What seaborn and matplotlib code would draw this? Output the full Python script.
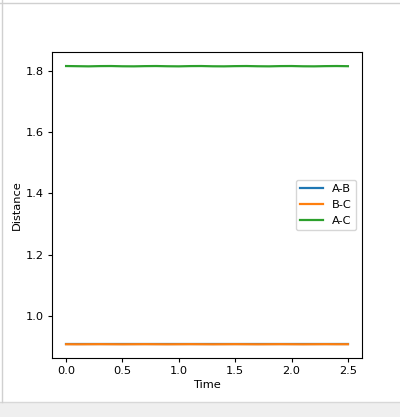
import matplotlib.pyplot as plt
import seaborn as sns
import pandas as pd
from matplotlib.patches import Rectangle
from matplotlib.lines import Line2D

# Time samples and distances
time = [0.0, 0.1, 0.2, 0.3, 0.4, 0.5, 0.6, 0.7, 0.8, 0.9, 1.0, 1.1, 1.2,
        1.3, 1.4, 1.5, 1.6, 1.7, 1.8, 1.9, 2.0, 2.1, 2.2, 2.3, 2.4, 2.5]
dist_ab = [0.908, 0.908, 0.908, 0.908, 0.908, 0.908, 0.908, 0.908, 0.908,
           0.908, 0.908, 0.908, 0.908, 0.908, 0.908, 0.908, 0.908, 0.908,
           0.908, 0.908, 0.908, 0.908, 0.908, 0.908, 0.908, 0.908]
dist_bc = [0.908, 0.9078, 0.908, 0.9082, 0.908, 0.9078, 0.908, 0.9082,
           0.908, 0.9078, 0.908, 0.9082, 0.908, 0.9078, 0.908, 0.9082,
           0.908, 0.9078, 0.908, 0.9082, 0.908, 0.9078, 0.908, 0.9082,
           0.908, 0.908]
dist_ac = [1.816, 1.8155, 1.815, 1.8158, 1.816, 1.8152, 1.815, 1.8157,
           1.816, 1.8153, 1.815, 1.8158, 1.816, 1.8152, 1.815, 1.8157,
           1.816, 1.8153, 1.815, 1.8158, 1.816, 1.8152, 1.815, 1.8157,
           1.816, 1.8155]
labels = ["A-B", "B-C", "A-C"]

df = pd.concat([
    pd.DataFrame({"Time": time, "Distance": d, "pair": lab})
    for d, lab in zip([dist_ab, dist_bc, dist_ac], labels)
])

# reference looks like a downscaled screenshot, so shrink text and ticks
plt.rcParams["font.size"] = 8.2
plt.rcParams["xtick.major.size"] = 2.8
plt.rcParams["ytick.major.size"] = 2.8
plt.rcParams["xtick.major.pad"] = 2.8
plt.rcParams["ytick.major.pad"] = 2.8
plt.rcParams["axes.labelpad"] = 3.0

fig = plt.figure(figsize=(4, 4.17), dpi=100)
ax = fig.add_axes([0.13, 0.141, 0.775, 0.734])
sns.lineplot(data=df, x="Time", y="Distance", hue="pair", hue_order=labels,
             palette=["#1f77b4", "#ff7f0e", "#2ca02c"], linewidth=1.6, ax=ax)
ax.set_xticks([0.0, 0.5, 1.0, 1.5, 2.0, 2.5])
ax.set_yticks([1.0, 1.2, 1.4, 1.6, 1.8])
ax.legend(loc="center right", title=None)

# screenshot window frame
fig.patches.append(Rectangle((0, 0), 1, 15 / 417, transform=fig.transFigure,
                             facecolor="#efefef", edgecolor="none"))
fig.lines.append(Line2D([0, 1], [15 / 417, 15 / 417], transform=fig.transFigure,
                        color="#d8d8d8", lw=1))
fig.lines.append(Line2D([0.006, 0.006], [15 / 417, 1], transform=fig.transFigure,
                        color="#d0d0d0", lw=1))
fig.lines.append(Line2D([0, 1], [0.994, 0.994], transform=fig.transFigure,
                        color="#d0d0d0", lw=1))

fig.savefig("out.png", dpi=100)
